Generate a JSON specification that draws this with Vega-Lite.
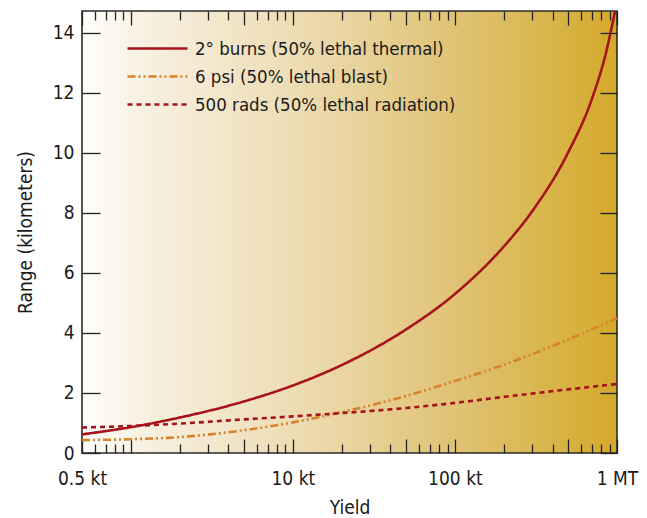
{
  "$schema": "https://vega.github.io/schema/vega-lite/v6.json",
  "width": 535,
  "height": 442,
  "autosize": "none",
  "padding": {"left": 82, "top": 11, "right": 30, "bottom": 65},
  "background": "white",
  "view": {
    "fill": {"gradient": "linear", "x1": 0, "y1": 0, "x2": 1, "y2": 0,
      "stops": [
        {"offset": 0, "color": "#fffefb"},
        {"offset": 0.13, "color": "#f7efdf"},
        {"offset": 0.41, "color": "#eddcb2"},
        {"offset": 0.7, "color": "#e0c274"},
        {"offset": 0.89, "color": "#d8b446"},
        {"offset": 1, "color": "#d4a82a"}
      ]},
    "stroke": "#2b2b2b",
    "strokeWidth": 1.6
  },
  "datasets": {
    "curves": [
      {"series": "2° burns (50% lethal thermal)", "yield": 0.5, "km": 0.62},
      {"series": "2° burns (50% lethal thermal)", "yield": 1, "km": 0.86},
      {"series": "2° burns (50% lethal thermal)", "yield": 2, "km": 1.18},
      {"series": "2° burns (50% lethal thermal)", "yield": 5, "km": 1.72},
      {"series": "2° burns (50% lethal thermal)", "yield": 10, "km": 2.25},
      {"series": "2° burns (50% lethal thermal)", "yield": 20, "km": 2.93},
      {"series": "2° burns (50% lethal thermal)", "yield": 50, "km": 4.12},
      {"series": "2° burns (50% lethal thermal)", "yield": 100, "km": 5.3},
      {"series": "2° burns (50% lethal thermal)", "yield": 200, "km": 6.88},
      {"series": "2° burns (50% lethal thermal)", "yield": 300, "km": 8.06},
      {"series": "2° burns (50% lethal thermal)", "yield": 500, "km": 10.02},
      {"series": "2° burns (50% lethal thermal)", "yield": 700, "km": 11.8},
      {"series": "2° burns (50% lethal thermal)", "yield": 850, "km": 13.28},
      {"series": "2° burns (50% lethal thermal)", "yield": 1000, "km": 15.05},
      {"series": "6 psi (50% lethal blast)", "yield": 0.5, "km": 0.43},
      {"series": "6 psi (50% lethal blast)", "yield": 1, "km": 0.46},
      {"series": "6 psi (50% lethal blast)", "yield": 2, "km": 0.53},
      {"series": "6 psi (50% lethal blast)", "yield": 5, "km": 0.76},
      {"series": "6 psi (50% lethal blast)", "yield": 10, "km": 1.02},
      {"series": "6 psi (50% lethal blast)", "yield": 20, "km": 1.36},
      {"series": "6 psi (50% lethal blast)", "yield": 50, "km": 1.9},
      {"series": "6 psi (50% lethal blast)", "yield": 100, "km": 2.4},
      {"series": "6 psi (50% lethal blast)", "yield": 200, "km": 2.94},
      {"series": "6 psi (50% lethal blast)", "yield": 500, "km": 3.78},
      {"series": "6 psi (50% lethal blast)", "yield": 1000, "km": 4.5},
      {"series": "500 rads (50% lethal radiation)", "yield": 0.5, "km": 0.85},
      {"series": "500 rads (50% lethal radiation)", "yield": 1, "km": 0.9},
      {"series": "500 rads (50% lethal radiation)", "yield": 2, "km": 0.98},
      {"series": "500 rads (50% lethal radiation)", "yield": 5, "km": 1.12},
      {"series": "500 rads (50% lethal radiation)", "yield": 10, "km": 1.22},
      {"series": "500 rads (50% lethal radiation)", "yield": 20, "km": 1.33},
      {"series": "500 rads (50% lethal radiation)", "yield": 50, "km": 1.5},
      {"series": "500 rads (50% lethal radiation)", "yield": 100, "km": 1.67},
      {"series": "500 rads (50% lethal radiation)", "yield": 200, "km": 1.87},
      {"series": "500 rads (50% lethal radiation)", "yield": 500, "km": 2.12},
      {"series": "500 rads (50% lethal radiation)", "yield": 1000, "km": 2.3}
    ]
  },
  "data": {"name": "curves"},
  "layer": [
    {
      "mark": {"type": "line", "interpolate": "monotone", "strokeWidth": 2.6, "clip": true},
      "encoding": {
        "x": {
          "field": "yield", "type": "quantitative",
          "scale": {"type": "log", "domain": [0.5, 1000], "nice": false},
          "axis": {
            "orient": "bottom",
            "values": [0.5, 0.6, 0.7, 0.8, 0.9, 1, 2, 3, 4, 5, 6, 7, 8, 9, 10, 20, 30, 40, 50, 60, 70, 80, 90, 100, 200, 300, 400, 500, 600, 700, 800, 900, 1000],
            "labelExpr": "datum.value == 0.5 ? '0.5 kt' : datum.value == 10 ? '10 kt' : datum.value == 100 ? '100 kt' : datum.value == 1000 ? '1 MT' : ''",
            "tickSize": {"condition": {"test": "indexof([0.5, 1, 5, 10, 50, 100, 500, 1000], datum.value) >= 0", "value": -14}, "value": -9},
            "tickColor": "#222222",
            "tickWidth": 1.3,
            "domain": false,
            "grid": false,
            "labelPadding": 30,
            "labelFlush": false,
            "labelOverlap": false,
            "labelFont": "DejaVu Sans Condensed, Liberation Sans, sans-serif",
            "labelFontSize": 19,
            "labelColor": "#1a1a1a",
            "title": "Yield",
            "titleFont": "DejaVu Sans Condensed, Liberation Sans, sans-serif",
            "titleFontSize": 19,
            "titleFontWeight": "normal",
            "titleColor": "#1a1a1a",
            "titlePadding": 5
          }
        },
        "y": {
          "field": "km", "type": "quantitative",
          "scale": {"domain": [0, 14.73], "nice": false},
          "axis": {
            "orient": "left",
            "values": [0, 2, 4, 6, 8, 10, 12, 14],
            "tickSize": -18,
            "tickColor": "#222222",
            "tickWidth": 1.3,
            "domain": false,
            "grid": false,
            "labelPadding": 26,
            "labelFont": "DejaVu Sans Condensed, Liberation Sans, sans-serif",
            "labelFontSize": 19,
            "labelColor": "#1a1a1a",
            "title": "Range (kilometers)",
            "titleFont": "DejaVu Sans Condensed, Liberation Sans, sans-serif",
            "titleFontSize": 19,
            "titleFontWeight": "normal",
            "titleColor": "#1a1a1a",
            "titlePadding": 17
          }
        },
        "color": {
          "field": "series", "type": "nominal",
          "scale": {
            "domain": ["2° burns (50% lethal thermal)", "6 psi (50% lethal blast)", "500 rads (50% lethal radiation)"],
            "range": ["#a6131b", "#d8822c", "#a6131b"]
          },
          "legend": {"orient": "none", "legendX": 64, "legendY": 26, "title": null, "symbolType": "M-3,0H3", "symbolSize": 400, "symbolStrokeWidth": 2.6, "labelFont": "DejaVu Sans Condensed, Liberation Sans, sans-serif", "labelFontSize": 18.5, "labelColor": "#1a1a1a", "labelOffset": 26, "rowPadding": 7, "labelLimit": 400}
        },
        "strokeDash": {
          "field": "series", "type": "nominal",
          "scale": {
            "domain": ["2° burns (50% lethal thermal)", "6 psi (50% lethal blast)", "500 rads (50% lethal radiation)"],
            "range": [[1, 0], [8, 3, 2, 3, 2, 3], [5, 4]]
          },
          "legend": {"orient": "none", "legendX": 64, "legendY": 26, "title": null, "symbolType": "M-3,0H3", "symbolSize": 400, "symbolStrokeWidth": 2.6, "labelFont": "DejaVu Sans Condensed, Liberation Sans, sans-serif", "labelFontSize": 18.5, "labelColor": "#1a1a1a", "labelOffset": 26, "rowPadding": 7, "labelLimit": 400}
        }
      }
    },
    {
      "mark": {"type": "point", "opacity": 0},
      "encoding": {
        "x": {
          "field": "yield", "type": "quantitative",
          "axis": {
            "orient": "top",
            "values": [0.5, 0.6, 0.7, 0.8, 0.9, 1, 2, 3, 4, 5, 6, 7, 8, 9, 10, 20, 30, 40, 50, 60, 70, 80, 90, 100, 200, 300, 400, 500, 600, 700, 800, 900, 1000],
            "tickSize": {"condition": {"test": "indexof([0.5, 1, 5, 10, 50, 100, 500, 1000], datum.value) >= 0", "value": -14}, "value": -9},
            "tickColor": "#222222",
            "tickWidth": 1.3,
            "labels": false,
            "domain": false,
            "grid": false,
            "title": null
          }
        },
        "y": {
          "field": "km", "type": "quantitative",
          "axis": {
            "orient": "right",
            "values": [0, 2, 4, 6, 8, 10, 12, 14],
            "tickSize": -17,
            "tickColor": "#222222",
            "tickWidth": 1.3,
            "labels": false,
            "domain": false,
            "grid": false,
            "title": null
          }
        }
      }
    }
  ],
  "resolve": {"axis": {"x": "independent", "y": "independent"}}
}
